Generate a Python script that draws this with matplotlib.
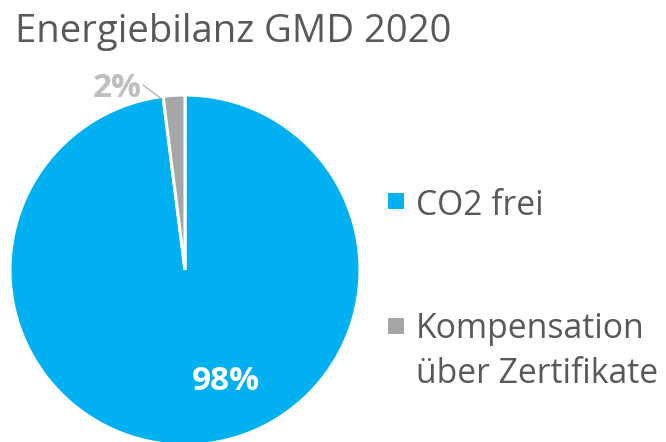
import matplotlib
matplotlib.use("Agg")
import matplotlib.pyplot as plt
from matplotlib.patches import Rectangle

categories = ["CO2 frei", "Kompensation\nüber Zertifikate"]
values = [98, 2]
pct_labels = ["98%", "2%"]
colors = ["#00B0F0", "#A6A6A6"]
title = "Energiebilanz GMD 2020"

W, H = 666, 442
plt.rcParams['font.family'] = ['Open Sans', 'DejaVu Sans']
fig = plt.figure(figsize=(W / 100, H / 100), dpi=100)

def fx(px):
    return px / W

def fy(py):
    return 1 - py / H

# pie axes: center (185, 270), radius 175 px
cx, cy, r = 185, 270, 175
ax = fig.add_axes([fx(cx - r), fy(cy + r), 2 * r / W, 2 * r / H])
ax.pie(values, colors=colors, startangle=90, counterclock=False,
       wedgeprops=dict(edgecolor="white", linewidth=2.2, antialiased=True))
ax.set_xlim(-1, 1)
ax.set_ylim(-1, 1)
ax.set_aspect("auto")
ax.axis("off")

def d(px, py):
    return ((px - cx) / r, (cy - py) / r)

ax.text(*d(226, 390), pct_labels[0], color="white", fontsize=24,
        fontweight="bold", ha="center", va="baseline")
ax.text(*d(117, 97), pct_labels[1], color="#BFBFBF", fontsize=24,
        fontweight="bold", ha="center", va="baseline")
ax.annotate("", xy=d(163, 100), xytext=d(143, 85),
            annotation_clip=False,
            arrowprops=dict(arrowstyle="-", color="#A6A6A6", lw=0.8,
                            shrinkA=0, shrinkB=0))

fig.text(fx(15), fy(42), title, color="#595959", fontsize=27.5,
         ha="left", va="baseline")

# legend
marker_y = [201, 326]
base_y = [[215], [338, 383]]
for i, (lab, col) in enumerate(zip(categories, colors)):
    fig.patches.append(Rectangle((fx(388), fy(marker_y[i] + 8)), 16 / W, 16 / H,
                                 transform=fig.transFigure, facecolor=col,
                                 edgecolor="none"))
    for line, by in zip(lab.split("\n"), base_y[i]):
        fig.text(fx(416), fy(by), line, color="#595959", fontsize=24.3,
                 ha="left", va="baseline")

fig.savefig("out.png", dpi=100)
